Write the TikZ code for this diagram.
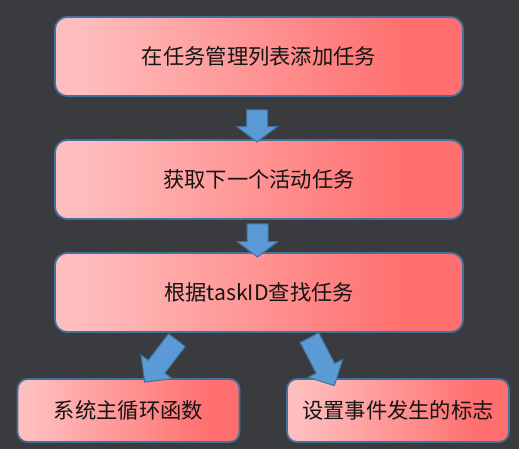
\documentclass[tikz,border=0pt]{standalone}
\usepackage{fontspec}
\newfontfamily\cjk{Noto Sans CJK SC}
\usetikzlibrary{shapes.arrows}
\definecolor{bg}{RGB}{58,59,63}
\definecolor{pinkL}{RGB}{255,190,190}
\definecolor{pinkR}{RGB}{255,111,111}
\definecolor{edgeblue}{RGB}{65,113,156}
\definecolor{arrowblue}{RGB}{91,155,213}
\pgfdeclarehorizontalshading{boxgrad}{100bp}{color(0bp)=(pinkL); color(28bp)=(pinkL); color(68bp)=(pinkR); color(100bp)=(pinkR)}
\tikzset{
  stepbox/.style={draw=edgeblue, line width=1.8pt, rounded corners=12pt, shading=boxgrad,
    font=\cjk\fontsize{21.3}{25}\selectfont, text=black!92, inner sep=0pt},
  bigbox/.style={stepbox, minimum width=408pt, minimum height=79pt},
  smallbox/.style={stepbox, minimum width=222pt, minimum height=63pt, rounded corners=10pt},
  barrow/.style={single arrow, draw=edgeblue, line width=1pt, fill=arrowblue,
    inner xsep=0pt, inner ysep=10pt, minimum width=40pt, single arrow head extend=10pt},
}
\begin{document}
\begin{tikzpicture}[x=1pt,y=-1pt]
\fill[bg] (0,0) rectangle (519,449);
\useasboundingbox (0,0) rectangle (519,449);
\node[bigbox] (b1) at (259,56.5) {在任务管理列表添加任务};
\node[bigbox] (b2) at (259,179.5) {获取下一个活动任务};
\node[bigbox] (b3) at (259,292.5) {根据taskID查找任务};
\node[smallbox] (b4) at (128.5,410.5) {系统主循环函数};
\node[smallbox] (b5) at (398,410.5) {设置事件发生的标志};
\node[barrow, minimum height=32pt, single arrow tip angle=106, rotate=-90] (a1) at (257,122) {};
\node[barrow, minimum height=33pt, single arrow tip angle=106, rotate=-90] (a2) at (257.5,236.5) {};
\node[barrow, minimum height=53pt, minimum width=38pt, single arrow head extend=9pt, rotate=-127.4] (a3) at (164,357) {};
\node[barrow, minimum height=54pt, minimum width=38pt, single arrow head extend=9pt, rotate=-62.5] (a4) at (319.5,357) {};
\end{tikzpicture}
\end{document}
